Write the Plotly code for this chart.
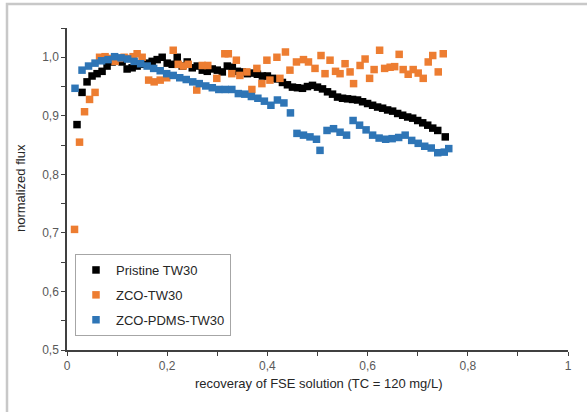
import plotly.graph_objects as go

# ---- data ----
pristine_x = [0.02, 0.03, 0.04, 0.05, 0.06, 0.07, 0.08, 0.09, 0.10, 0.11, 0.12, 0.13, 0.14, 0.15,
              0.16, 0.17, 0.18, 0.19, 0.20, 0.21, 0.22, 0.23, 0.24, 0.25, 0.26, 0.27, 0.28, 0.29,
              0.30, 0.31, 0.32, 0.33, 0.34, 0.35, 0.36, 0.37, 0.38, 0.39, 0.40, 0.41, 0.42, 0.43,
              0.44, 0.45, 0.46, 0.47, 0.48, 0.49, 0.50, 0.51, 0.52, 0.53, 0.54, 0.55, 0.56, 0.57,
              0.58, 0.59, 0.60, 0.61, 0.62, 0.63, 0.64, 0.65, 0.66, 0.67, 0.68, 0.69, 0.70, 0.71,
              0.72, 0.73, 0.74, 0.755]
pristine_y = [0.885, 0.940, 0.958, 0.968, 0.972, 0.976, 0.985, 0.992, 0.996, 0.992, 0.980, 0.982,
              0.985, 0.988, 0.990, 0.993, 0.996, 1.000, 0.990, 0.988, 1.000, 0.985, 0.992, 0.982,
              0.985, 0.978, 0.976, 0.980, 0.978, 0.975, 0.985, 0.983, 0.976, 0.975, 0.972, 0.973,
              0.971, 0.968, 0.968, 0.964, 0.963, 0.957, 0.953, 0.949, 0.948, 0.947, 0.950, 0.952,
              0.949, 0.946, 0.941, 0.937, 0.932, 0.930, 0.929, 0.928, 0.927, 0.924, 0.921, 0.918,
              0.915, 0.913, 0.910, 0.908, 0.904, 0.901, 0.898, 0.896, 0.892, 0.888, 0.884, 0.879,
              0.875, 0.864]

zco_x = [0.015, 0.025, 0.035, 0.045, 0.056, 0.065, 0.076, 0.086, 0.096, 0.105, 0.114, 0.123,
         0.132, 0.140, 0.150, 0.163, 0.174, 0.186, 0.199, 0.212, 0.222, 0.232, 0.242, 0.259,
         0.270, 0.281, 0.299, 0.315, 0.322, 0.329, 0.338, 0.345, 0.359, 0.369, 0.379, 0.389,
         0.399, 0.405, 0.419, 0.425, 0.436, 0.445, 0.458, 0.472, 0.482, 0.495, 0.507, 0.515,
         0.525, 0.536, 0.545, 0.555, 0.565, 0.572, 0.585, 0.595, 0.604, 0.613, 0.624, 0.634,
         0.645, 0.654, 0.663, 0.671, 0.681, 0.691, 0.701, 0.711, 0.721, 0.730, 0.741, 0.751]
zco_y = [0.706, 0.855, 0.907, 0.928, 0.940, 1.000, 1.001, 0.998, 0.993, 0.998, 1.000, 0.998,
         1.001, 1.006, 1.000, 0.961, 0.958, 0.961, 0.965, 1.012, 0.988, 0.985, 0.988, 0.944,
         0.986, 0.986, 0.964, 1.006, 1.006, 0.972, 0.995, 0.969, 0.975, 0.945, 0.981, 0.955,
         0.995, 0.961, 1.000, 0.964, 1.009, 0.978, 0.992, 0.996, 0.992, 0.981, 1.003, 0.972,
         0.995, 0.976, 0.972, 0.989, 0.975, 0.955, 0.986, 0.997, 0.964, 0.979, 1.012, 0.981,
         0.983, 0.984, 1.005, 0.979, 0.971, 0.979, 0.973, 0.964, 0.992, 1.003, 0.975, 1.006]

pdms_x = [0.016, 0.030, 0.043, 0.056, 0.069, 0.082, 0.095, 0.108, 0.121, 0.134, 0.147, 0.160,
          0.173, 0.186, 0.199, 0.212, 0.225, 0.238, 0.251, 0.264, 0.277, 0.290, 0.303, 0.316,
          0.329, 0.342, 0.355, 0.368, 0.381, 0.394, 0.407, 0.420, 0.433, 0.446, 0.459, 0.472,
          0.485, 0.498, 0.505, 0.519, 0.532, 0.545, 0.558, 0.571, 0.584, 0.597, 0.610, 0.623,
          0.636, 0.649, 0.662, 0.675, 0.688, 0.701, 0.714, 0.727, 0.740, 0.753, 0.762]
pdms_y = [0.947, 0.978, 0.985, 0.990, 0.994, 0.996, 1.001, 0.999, 0.997, 0.993, 0.989, 0.985,
          0.981, 0.977, 0.972, 0.969, 0.965, 0.962, 0.958, 0.955, 0.951, 0.948, 0.945, 0.945,
          0.945, 0.938, 0.937, 0.933, 0.930, 0.925, 0.918, 0.927, 0.922, 0.905, 0.870, 0.867,
          0.864, 0.860, 0.841, 0.875, 0.878, 0.872, 0.867, 0.892, 0.884, 0.876, 0.867, 0.862,
          0.860, 0.861, 0.863, 0.867, 0.858, 0.853, 0.848, 0.845, 0.837, 0.838, 0.844]

series_names = ["Pristine TW30", "ZCO-TW30", "ZCO-PDMS-TW30"]
series_colors = ["#000000", "#ED7D31", "#2E75B6"]

x_tickvals = [0, 0.2, 0.4, 0.6, 0.8, 1.0]
x_ticktext = ["0", "0,2", "0,4", "0,6", "0,8", "1"]
y_tickvals = [0.5, 0.6, 0.7, 0.8, 0.9, 1.0]
y_ticktext = ["0,5", "0,6", "0,7", "0,8", "0,9", "1,0"]
x_title = "recoveray of FSE solution (TC = 120 mg/L)"
y_title = "normalized flux"

FONT = "Liberation Sans, Arial, sans-serif"

fig = go.Figure()
for name, xs, ys, col in zip(series_names, [pristine_x, zco_x, pdms_x],
                             [pristine_y, zco_y, pdms_y], series_colors):
    fig.add_trace(go.Scatter(
        x=xs, y=ys, mode="markers", name=name, legendgroup=name,
        marker=dict(symbol="square", size=7.5, color=col, line=dict(width=0)),
    ))

# plot area in px: x 67..568, y 28..350 (window 587x412)
L, R, T, B = 67, 19, 28, 62
W, H = 587, 412
pw, ph = W - L - R, H - T - B

def px2paper_x(px):
    return (px - L) / pw

def px2paper_y(py):
    return (H - B - py) / ph

fig.update_layout(
    width=W, height=H,
    margin=dict(l=L, r=R, t=T, b=B, autoexpand=False),
    paper_bgcolor="white", plot_bgcolor="white",
    separators=",.",
    font=dict(family=FONT, size=12, color="#404040"),
    showlegend=True,
    legend=dict(
        x=px2paper_x(75), y=px2paper_y(254), xanchor="left", yanchor="top",
        bordercolor="#a6a6a6", borderwidth=1, bgcolor="white",
        font=dict(family=FONT, size=13, color="#262626"),
        tracegroupgap=5, itemwidth=30, entrywidth=150, entrywidthmode="pixels",
    ),
    xaxis=dict(
        range=[0, 1], tickvals=x_tickvals, ticktext=x_ticktext, automargin=False,
        showgrid=False, zeroline=False, showline=True, linecolor="#404040", linewidth=1.5,
        ticks="outside", ticklen=4, tickcolor="#404040",
        minor=dict(dtick=0.1, ticks="outside", ticklen=4, tickcolor="#404040", showgrid=False),
        tickfont=dict(size=12, color="#595959"),
    ),
    yaxis=dict(
        range=[0.5, 1.05], tickvals=y_tickvals, ticktext=y_ticktext, automargin=False,
        showgrid=False, zeroline=False, showline=True, linecolor="#404040", linewidth=1.5,
        ticks="outside", ticklen=4, tickcolor="#404040",
        minor=dict(dtick=0.05, ticks="outside", ticklen=4, tickcolor="#404040", showgrid=False),
        tickfont=dict(size=12, color="#595959"),
    ),
    annotations=[
        dict(text=x_title, xref="paper", yref="paper", x=px2paper_x(318), y=px2paper_y(383),
             xanchor="center", yanchor="middle", showarrow=False,
             font=dict(family=FONT, size=13, color="#262626")),
        dict(text=y_title, xref="paper", yref="paper", x=px2paper_x(20), y=px2paper_y(188),
             xanchor="center", yanchor="middle", showarrow=False, textangle=-90,
             font=dict(family=FONT, size=13, color="#262626")),
    ],
    shapes=[dict(
        type="rect", xref="paper", yref="paper", layer="below",
        x0=px2paper_x(7), x1=px2paper_x(600), y0=px2paper_y(430), y1=px2paper_y(4),
        line=dict(color="#c8c8c8", width=2.5), fillcolor="rgba(0,0,0,0)",
    )],
)

# remove the browser's default 8px body margin so the figure sits at the page origin
fig.write_html("out.html", config={"displayModeBar": False},
               post_script="document.body.style.margin='0';document.body.style.overflow='hidden';")
